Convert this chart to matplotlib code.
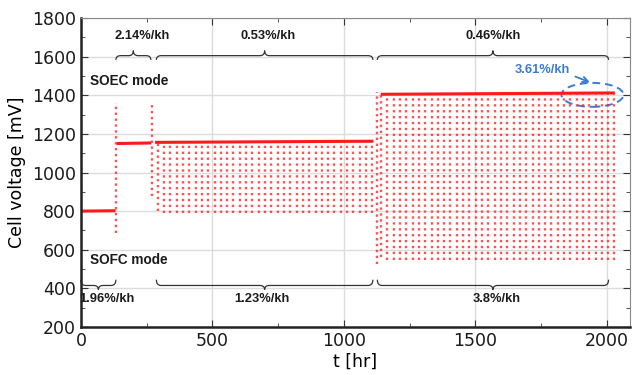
import matplotlib
matplotlib.use('Agg')
import matplotlib.pyplot as plt
from matplotlib.path import Path
from matplotlib.patches import PathPatch, Ellipse

# ---------------- data ----------------
# SOFC operation
sofc_t = [0, 132]
sofc_v = [800, 802]
# first SOEC period (no cycling)
soec1_t = [136, 268]
soec1_v = [1150, 1153]
# mode-switch spikes (time, high, low)
spike_t = [2, 132, 272, 1125]
spike_hi = [1130, 1360, 1365, 1418]
spike_lo = [800, 688, 880, 525]
# second SOEC period: steady value and daily cycles
soec2_t = [282, 1112]
soec2_v = [1156, 1162]
cyc2_t = [292, 316, 340, 364, 388, 412, 436, 460, 484, 508, 532, 556, 580, 604,
          628, 652, 676, 700, 724, 748, 772, 796, 820, 844, 868, 892, 916, 940,
          964, 988, 1012, 1036, 1060, 1084, 1108]
cyc2_low = [800, 792, 790, 790, 792, 790, 790, 791, 790, 790, 792, 790, 790, 790,
            791, 790, 790, 790, 792, 790, 790, 790, 790, 791, 790, 790, 790, 792,
            790, 790, 790, 790, 791, 790, 790]
# third SOEC period: steady value and daily cycles
soec3_t = [1140, 2030]
soec3_v = [1405, 1412]
cyc3_t = [1141, 1165, 1189, 1213, 1237, 1261, 1285, 1309, 1333, 1357, 1381, 1405,
          1429, 1453, 1477, 1501, 1525, 1549, 1573, 1597, 1621, 1645, 1669, 1693,
          1717, 1741, 1765, 1789, 1813, 1837, 1861, 1885, 1909, 1933, 1957, 1981,
          2005, 2027]
cyc3_low = [560, 548, 545, 546, 545, 547, 545, 546, 545, 545, 548, 545, 546, 545,
            545, 547, 545, 545, 546, 545, 545, 547, 545, 545, 546, 545, 545, 545,
            547, 545, 545, 546, 545, 545, 545, 546, 545, 545]

# annotations
top_braces = [(133, 266, '2.14%/kh', 232), (287, 1110, '0.53%/kh', 711),
              (1127, 2006, '0.46%/kh', 1569)]
bot_braces = [(0, 133, '1.96%/kh', 98), (287, 1110, '1.23%/kh', 688),
              (1127, 2006, '3.8%/kh', 1582)]

RED = '#ff1a1a'
BLUE = '#3a7bd5'

fig = plt.figure(figsize=(6.32, 3.75), dpi=100)
ax = fig.add_axes([0.128, 0.128, 0.869, 0.824])

# cycles and spikes as dotted columns
def interp(ts, vs, t):
    return vs[0] + (vs[1] - vs[0]) * (t - ts[0]) / (ts[1] - ts[0])

dot = (0, (1, 1.5))
kw = dict(colors=RED, linestyles=dot, linewidth=1.7, alpha=0.75)
ax.vlines(cyc2_t, cyc2_low, [interp(soec2_t, soec2_v, t) for t in cyc2_t], **kw)
ax.vlines(cyc3_t, cyc3_low, [interp(soec3_t, soec3_v, t) for t in cyc3_t], **kw)
ax.vlines(spike_t, spike_lo, spike_hi, **kw)

# steady lines
for ts, vs in [(sofc_t, sofc_v), (soec1_t, soec1_v), (soec2_t, soec2_v),
               (soec3_t, soec3_v)]:
    ax.plot(ts, vs, color=RED, lw=2.2, solid_capstyle='butt')

ax.set_xlim(0, 2088)
ax.set_ylim(200, 1800)
ax.set_xticks([0, 500, 1000, 1500, 2000])
ax.set_xticks([250, 750, 1250, 1750], minor=True)
ax.set_yticks(range(200, 1801, 200))
ax.set_yticks(range(300, 1800, 200), minor=True)
ax.tick_params(which='both', direction='in', top=True, right=True,
               labelsize=12.5, colors='#333333', labelcolor='#1a1a1a')
ax.tick_params(which='major', length=5)
ax.tick_params(which='minor', length=3)
ax.grid(True, which='major', color='#dcdcdc', lw=1.0)
ax.set_axisbelow(True)
for s in ['left', 'bottom']:
    ax.spines[s].set_linewidth(1.8)
    ax.spines[s].set_color('#222222')
for s in ['top', 'right']:
    ax.spines[s].set_linewidth(0.8)
    ax.spines[s].set_color('#888888')
ax.set_xlabel('t [hr]', fontsize=12.5, labelpad=2)
ax.set_ylabel('Cell voltage [mV]', fontsize=12.5, labelpad=4)


def brace(x0, x1, y, end, tip, r=18):
    xm = (x0 + x1) / 2
    verts = [(x0, y + end), (x0, y), (x0 + r, y),
             (xm - r, y), (xm, y), (xm, y + tip),
             (xm, y), (xm + r, y),
             (x1 - r, y), (x1, y), (x1, y + end)]
    codes = [Path.MOVETO, Path.CURVE3, Path.CURVE3,
             Path.LINETO, Path.CURVE3, Path.CURVE3,
             Path.CURVE3, Path.CURVE3,
             Path.LINETO, Path.CURVE3, Path.CURVE3]
    ax.add_patch(PathPatch(Path(verts, codes), fill=False, ec='#333333',
                           lw=0.9, clip_on=False))

tfont = dict(family='Liberation Sans', fontweight='bold', fontsize=9.3,
             color='#1a1a1a')
for x0, x1, lab, xt in top_braces:
    brace(x0, x1, 1605, -22, 26)
    ax.text(xt, 1708, lab, ha='center', va='center', **tfont)
for x0, x1, lab, xt in bot_braces:
    brace(x0, x1, 415, 30, -22)
    ax.text(xt, 347, lab, ha='center', va='center', **tfont)

ax.text(34, 1475, 'SOEC mode', ha='left', va='center', **{**tfont, 'fontsize': 9.8})
ax.text(34, 547, 'SOFC mode', ha='left', va='center', **{**tfont, 'fontsize': 9.8})

ax.add_patch(Ellipse((1945, 1402), 236, 124, fill=False, ec=BLUE, lw=1.4,
                     ls=(0, (4, 2.5)), clip_on=False))
ax.annotate('', xy=(1945, 1462), xytext=(1870, 1502),
            arrowprops=dict(arrowstyle='->', color=BLUE, lw=1.3))
ax.text(1756, 1532, '3.61%/kh', ha='center', va='center',
        family='Liberation Sans', fontweight='bold', fontsize=9.3, color=BLUE)

fig.savefig('out.png', dpi=100)
